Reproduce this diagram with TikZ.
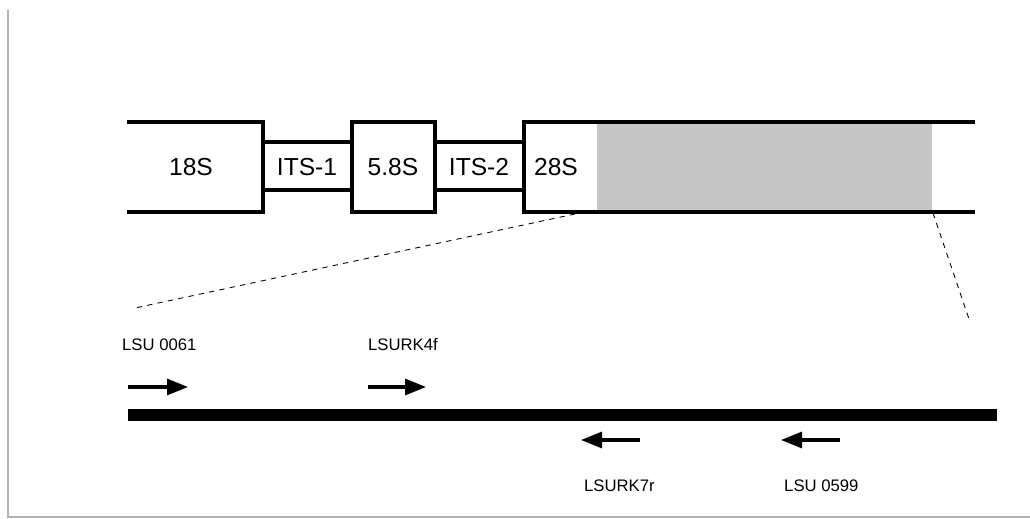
\documentclass[tikz,border=0pt]{standalone}
\usepackage{fontspec}
\setmainfont{Liberation Sans}
\usetikzlibrary{arrows.meta}
\tikzset{
  region/.style={line width=2.2pt},
  lbl/.style={font=\fontsize{14}{16}\selectfont},
  primer/.style={font=\fontsize{9.5}{11}\selectfont, anchor=west},
  primarrow/.style={line width=1.8pt, -{Triangle[length=0.42cm,width=0.32cm]}},
}
\begin{document}
\begin{tikzpicture}[x=0.02cm, y=-0.02cm]
\useasboundingbox (0,0) rectangle (1030,519);
\draw[gray!60, line width=0.6pt] (8,10) -- (8,517) -- (1030,517);
% rDNA unit
\fill[gray!45] (597,124) rectangle (932,210);
\draw[region] (127,122) -- (263,122) -- (263,212) -- (127,212);
\draw[region] (263,142) -- (352,142);
\draw[region] (263,190) -- (352,190);
\draw[region] (352,122) rectangle (435,212);
\draw[region] (435,142) -- (524,142);
\draw[region] (435,190) -- (524,190);
\draw[region] (975,122) -- (524,122) -- (524,212) -- (975,212);
\node[lbl] (s18) at (191,167) {18S};
\node[lbl] (its1) at (307,167) {ITS-1};
\node[lbl] (s58) at (393,167) {5.8S};
\node[lbl] (its2) at (479,167) {ITS-2};
\node[lbl] (s28) at (556,167) {28S};
% zoom lines
\coordinate (zl) at (575,214);
\coordinate (zr) at (933,213);
\coordinate (bl) at (135,308);
\coordinate (br) at (970,322);
\draw[dashed, line width=0.5pt] (zl) -- (bl);
\draw[dashed, line width=0.5pt] (zr) -- (br);
% 28S fragment and primers
\draw[line width=0.24cm] (128,415) -- (997,415);
\node[primer] (p1) at (116,345) {LSU 0061};
\node[primer] (p2) at (362,345) {LSURK4f};
\node[primer] (p3) at (578,486) {LSURK7r};
\node[primer] (p4) at (778,486) {LSU 0599};
\draw[primarrow] (128,387) -- (188,387);
\draw[primarrow] (368,387) -- (426,387);
\draw[primarrow] (640,440) -- (581,440);
\draw[primarrow] (840,440) -- (781,440);
\end{tikzpicture}
\end{document}
